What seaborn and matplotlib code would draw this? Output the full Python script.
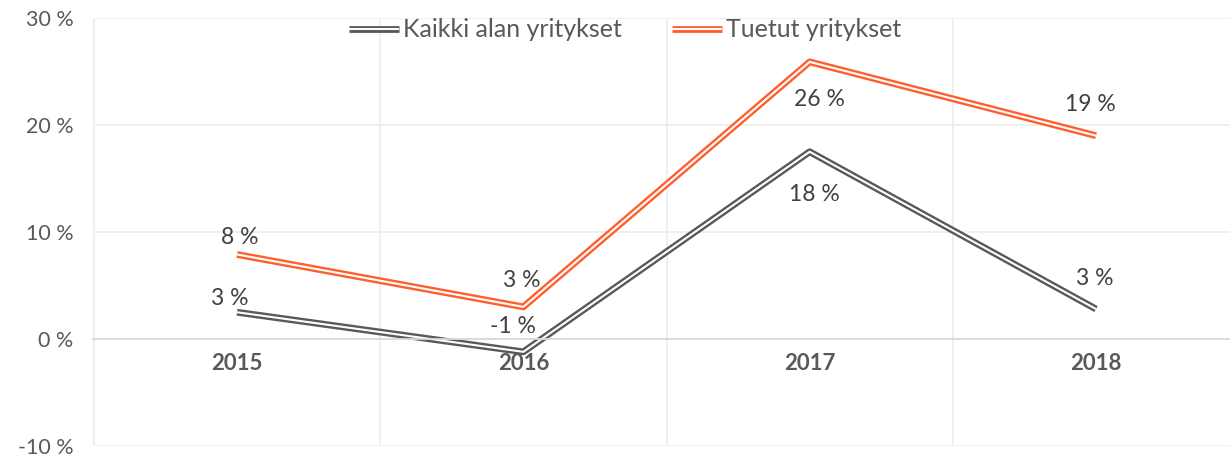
import matplotlib
matplotlib.use('Agg')
import matplotlib.pyplot as plt
import matplotlib.patheffects as pe
import pandas as pd
import seaborn as sns

years = ['2015', '2016', '2017', '2018']
kaikki = [2.5, -1.2, 17.5, 2.8]
tuetut = [7.9, 3.0, 25.9, 19.0]
kaikki_labels = ['3 %', '-1 %', '18 %', '3 %']
tuetut_labels = ['8 %', '3 %', '26 %', '19 %']
y_ticks = [-10, 0, 10, 20, 30]

GRAY = '#595959'
ORANGE = '#FF5F2E'
TEXT = '#595959'

sns.set_style('white')
plt.rcParams['font.family'] = ['Lato', 'DejaVu Sans']

df = pd.DataFrame({'vuosi': years, 'kaikki': kaikki, 'tuetut': tuetut})

fig = plt.figure(figsize=(12.3, 4.57), dpi=100)
ax = fig.add_axes([93 / 1230, 1 - 446 / 457, 1 - 93 / 1230, (446 - 18) / 457])


def double_line(col, color, label):
    sns.lineplot(data=df, x='vuosi', y=col, ax=ax, color='white', lw=1.5,
                 label=label, sort=False, solid_capstyle='butt',
                 path_effects=[pe.Stroke(linewidth=4.9, foreground=color, capstyle='butt'),
                               pe.Normal()])


double_line('kaikki', GRAY, 'Kaikki alan yritykset')
double_line('tuetut', ORANGE, 'Tuetut yritykset')

# data labels: offset in px from the point (positive = above)
kaikki_off = [(-7, 14), (-10, 25), (5, -43), (-1, 31)]
tuetut_off = [(3, 17), (-2, 26), (10, -38), (-6, 31)]
for vals, labs, offs in [(kaikki, kaikki_labels, kaikki_off), (tuetut, tuetut_labels, tuetut_off)]:
    for i, (v, t, (dx, dy)) in enumerate(zip(vals, labs, offs)):
        ax.annotate(t, (i, v), xytext=(dx * 0.72, dy * 0.72), textcoords='offset points',
                    ha='center', va='center', fontsize=16.5, color='#404040')

ax.set_ylim(-10, 30)
ax.set_xlim(-0.503, 3.468)
ax.set_yticks(y_ticks)
ax.set_yticklabels(['{} %'.format(v) for v in y_ticks])
ax.set_xticks(range(len(years)))
ax.set_xticklabels(years)
ax.set_xticks([-0.5, 0.5, 1.5, 2.5], minor=True)

ax.grid(axis='y', which='major', color='#EEEEEE', lw=1.3)
ax.grid(axis='x', which='minor', color='#EEEEEE', lw=1.3)
ax.grid(axis='x', which='major', visible=False)
ax.set_axisbelow(True)

for s in ['top', 'right', 'left']:
    ax.spines[s].set_visible(False)
ax.spines['bottom'].set_position(('data', 0))
ax.spines['bottom'].set_color('#D9D9D9')
ax.spines['bottom'].set_linewidth(1.3)

ax.tick_params(axis='x', which='both', length=0, pad=10, labelsize=16, colors=TEXT)
ax.tick_params(axis='y', length=0, pad=14, labelsize=15.5, colors=TEXT)
for lab in ax.get_xticklabels():
    lab.set_fontweight('bold')
ax.set_xlabel('')
ax.set_ylabel('')

leg = ax.legend(loc='center', bbox_to_anchor=(0.468, 0.972), ncol=2, frameon=False,
                fontsize=18, handlelength=2.0, handletextpad=0.15, columnspacing=2.0)
for t in leg.get_texts():
    t.set_color(TEXT)

fig.savefig('out.png', dpi=100)
